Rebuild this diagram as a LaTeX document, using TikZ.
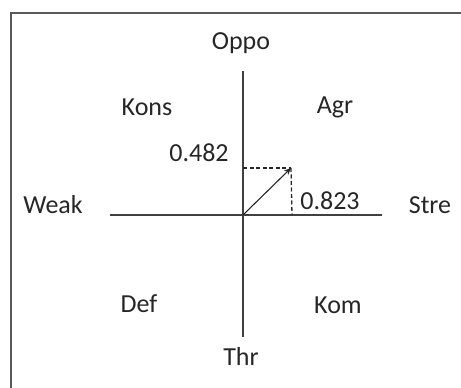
\documentclass[tikz,border=0pt]{standalone}
\usepackage{fontspec}
\setmainfont{Carlito}
\usetikzlibrary{arrows.meta}
\begin{document}
\begin{tikzpicture}[x=1pt,y=-1pt,
  lbl/.style={font=\fontsize{26}{30}\selectfont, inner sep=0pt, text=black!85},
  axis/.style={line width=1.8pt, black!75},
  guide/.style={line width=1.3pt, dashed, dash pattern=on 4pt off 2.5pt, black!85},
  frame/.style={line width=2.6pt, black!65}]
\useasboundingbox (0,0) rectangle (461,388);
\draw[frame] (11,388) -- (11,13) -- (461,13);
% axes
\coordinate (top) at (243,71);
\coordinate (bot) at (243,337);
\coordinate (left) at (110,215);
\coordinate (right) at (382,215);
\coordinate (o) at (243,215);
\coordinate (tip) at (291,168);
\coordinate (ytick) at (243,168);
\coordinate (xtick) at (292,215);
\draw[axis] (top) -- (bot);
\draw[axis] (left) -- (right);
\draw[guide] (ytick) -- (tip);
\draw[guide] (tip) -- (xtick);
\draw[line width=1.1pt, black!85, -{Stealth[length=7pt,width=6pt]}] (o) -- (tip);
% labels
\node[lbl] (oppo) at (241,43) {Oppo};
\node[lbl] (thr) at (241,356) {Thr};
\node[lbl] (weak) at (53,205) {Weak};
\node[lbl] (stre) at (430,205) {Stre};
\node[lbl] (kons) at (147,107) {Kons};
\node[lbl] (agr) at (335,107) {Agr};
\node[lbl] (def) at (139,304) {Def};
\node[lbl] (kom) at (338,305) {Kom};
\node[lbl] (v1) at (199,153) {0.482};
\node[lbl] (v2) at (330,201) {0.823};
\end{tikzpicture}
\end{document}
